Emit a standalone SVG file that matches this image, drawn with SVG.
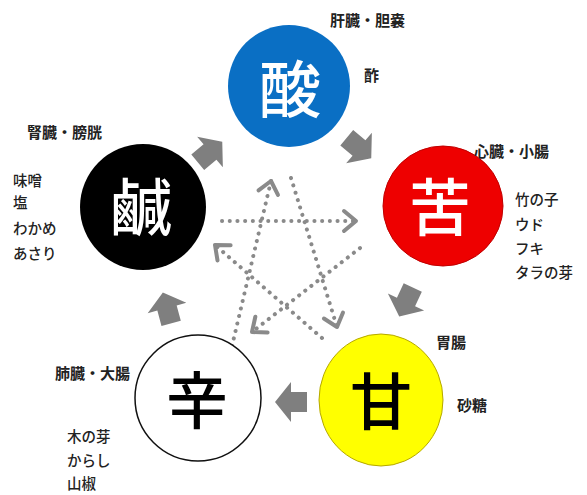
<svg xmlns="http://www.w3.org/2000/svg" width="587" height="495" viewBox="0 0 587 495">
<defs>
<style>
.big{font-family:"Noto Sans CJK JP","Noto Sans CJK SC",sans-serif;font-size:62px;font-weight:500;text-anchor:middle;dominant-baseline:central}
.lbl{font-family:"Noto Sans CJK JP","Noto Sans CJK SC",sans-serif;font-size:15px;font-weight:700;fill:#222}
.food{font-family:"Noto Sans CJK JP","Noto Sans CJK SC",sans-serif;font-size:14.5px;font-weight:500;fill:#222}
.blk{fill:#7f7f7f}
.dot{fill:none;stroke:#8a8a8a;stroke-width:4;stroke-linecap:round;stroke-dasharray:0.1 7.6}
.chev{fill:none;stroke:#8a8a8a;stroke-width:4;stroke-linecap:round;stroke-linejoin:round}
</style>
<marker id="head" markerUnits="userSpaceOnUse" viewBox="-16 -14 20 28" markerWidth="20" markerHeight="28" refX="0" refY="0" orient="auto">
<path class="chev" d="M-12,-10 L0,0 L-12,10"/>
</marker>
<path id="blkarrow" d="M-16,-10 H0 V-20 L16,0 L0,20 V10 H-16 Z"/>
</defs>
<rect width="587" height="495" fill="#fff"/>
<g id="connectors">
<use href="#blkarrow" class="blk" transform="translate(210,152) rotate(-40)"/>
<use href="#blkarrow" class="blk" transform="translate(359,148) rotate(40)"/>
<use href="#blkarrow" class="blk" transform="translate(406,302) rotate(115)"/>
<use href="#blkarrow" class="blk" transform="translate(291,402) rotate(180)"/>
<use href="#blkarrow" class="blk" transform="translate(167,308) rotate(-105)"/>
<path class="dot" d="M222,221 L356,221" marker-end="url(#head)"/>
<path class="dot" d="M291,178 L337,327" marker-end="url(#head)"/>
<path class="dot" d="M360,248 L252,332" marker-end="url(#head)"/>
<path class="dot" d="M232,346 L271,181" marker-end="url(#head)"/>
<path class="dot" d="M322,338 L215,245" marker-end="url(#head)"/>
</g>
<g id="sour">
<circle cx="289" cy="86" r="61" fill="#0a6fc4"/>
<text class="big" x="290" y="86" fill="#fff">酸</text>
<text class="lbl" x="330" y="26">肝臓・胆嚢</text>
<text class="lbl" x="364" y="81">酢</text>
</g>
<g id="bitter">
<circle cx="443" cy="206" r="60" fill="#ee0000" stroke="#c00000" stroke-width="1"/>
<text class="big" x="440" y="204" fill="#fff">苦</text>
<text class="lbl" x="474" y="157">心臓・小腸</text>
<text class="food" x="515" y="205">竹の子</text>
<text class="food" x="515" y="230">ウド</text>
<text class="food" x="515" y="254">フキ</text>
<text class="food" x="515" y="278">タラの芽</text>
</g>
<g id="sweet">
<ellipse cx="381" cy="400" rx="62" ry="66" fill="#ffff00" stroke="#b5a800" stroke-width="1"/>
<text class="big" x="381" y="398" fill="#000">甘</text>
<text class="lbl" x="436" y="348">胃腸</text>
<text class="lbl" x="457" y="411">砂糖</text>
</g>
<g id="spicy">
<circle cx="198" cy="398" r="63" fill="#fff" stroke="#111" stroke-width="1.5"/>
<text class="big" x="197" y="397" fill="#000">辛</text>
<text class="lbl" x="55" y="379">肺臓・大腸</text>
<text class="food" x="67" y="442">木の芽</text>
<text class="food" x="67" y="466">からし</text>
<text class="food" x="67" y="489">山椒</text>
</g>
<g id="salty">
<circle cx="143" cy="207" r="63" fill="#000"/>
<text class="big" x="141" y="204" fill="#fff">鹹</text>
<text class="lbl" x="27" y="138">腎臓・膀胱</text>
<text class="food" x="13" y="186">味噌</text>
<text class="food" x="13" y="208">塩</text>
<text class="food" x="13" y="234">わかめ</text>
<text class="food" x="13" y="259">あさり</text>
</g>
</svg>
